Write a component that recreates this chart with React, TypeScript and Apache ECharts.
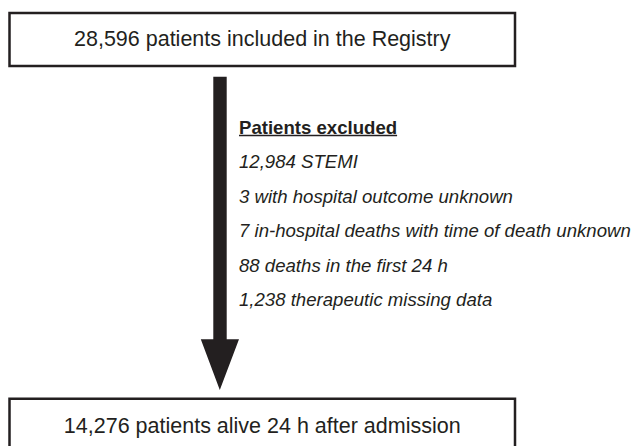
import React, { useEffect, useRef } from "react";
import * as echarts from "echarts";

// ---- data ----
const includedCount = 28596;
const includedLabel = "patients included in the Registry";
const exclusionTitle = "Patients excluded";
const exclusionCounts = [12984, 3, 7, 88, 1238];
const exclusionLabels = [
  "STEMI",
  "with hospital outcome unknown",
  "in-hospital deaths with time of death unknown",
  "deaths in the first 24 h",
  "therapeutic missing data",
];
const finalCount = 14276;
const finalLabel = "patients alive 24 h after admission";

// ---- style / layout ----
const INK = "#231f20";
const FONT = "'Liberation Sans', Arial, Helvetica, sans-serif";
const BOX_X = 9.5;
const BOX_W = 505.5;
const TOP_Y = 13;
const TOP_H = 53;
const BOT_Y = 398.7;
const BOT_H = 80;
const BOX_LW = 2.5;
const BOX_FS = 21.5;
const LIST_X = 239;
const LIST_Y0 = 127;
const LIST_STEP = 34.5;
const LIST_FS = 18.6;
const SHAFT_L = 213.3;
const SHAFT_R = 226.7;
const SHAFT_TOP = 76.7;
const HEAD_TOP = 339.3;
const HEAD_L = 200.8;
const HEAD_R = 239;
const TIP_X = 219.8;
const TIP_Y = 390;

const fmt = (n: number) => n.toLocaleString("en-US");

function measure(text: string, font: string): number {
  const c = document.createElement("canvas").getContext("2d");
  if (!c) return text.length * 9;
  c.font = font;
  return c.measureText(text).width;
}

export default function App() {
  const ref = useRef<HTMLDivElement>(null);
  useEffect(() => {
    if (!ref.current) return;
    document.body.style.margin = "0";
    const chart = echarts.init(ref.current, undefined, { renderer: "svg" });
    const titleFont = `bold ${LIST_FS}px ${FONT}`;
    const titleW = measure(exclusionTitle, `bold ${LIST_FS}px Liberation Sans, Arial, sans-serif`);

    const listItems: any[] = exclusionCounts.map((c, i) => ({
      type: "text",
      x: LIST_X,
      y: LIST_Y0 + LIST_STEP * (i + 1),
      style: {
        text: `${fmt(c)} ${exclusionLabels[i]}`,
        fill: INK,
        font: `italic ${LIST_FS}px ${FONT}`,
        align: "left",
        verticalAlign: "middle",
      },
    }));

    const elements: any[] = [
      {
        type: "rect",
        shape: { x: BOX_X, y: TOP_Y, width: BOX_W, height: TOP_H },
        style: { fill: "#fff", stroke: INK, lineWidth: BOX_LW },
      },
      {
        type: "text",
        x: BOX_X + BOX_W / 2,
        y: 38.7,
        style: {
          text: `${fmt(includedCount)} ${includedLabel}`,
          fill: INK,
          font: `${BOX_FS}px ${FONT}`,
          align: "center",
          verticalAlign: "middle",
        },
      },
      {
        type: "polygon",
        shape: {
          points: [
            [SHAFT_L, SHAFT_TOP],
            [SHAFT_R, SHAFT_TOP],
            [SHAFT_R, HEAD_TOP],
            [HEAD_R, HEAD_TOP],
            [TIP_X, TIP_Y],
            [HEAD_L, HEAD_TOP],
            [SHAFT_L, HEAD_TOP],
          ],
        },
        style: { fill: INK },
      },
      {
        type: "text",
        x: LIST_X,
        y: LIST_Y0,
        style: {
          text: exclusionTitle,
          fill: INK,
          font: titleFont,
          align: "left",
          verticalAlign: "middle",
        },
      },
      {
        type: "line",
        shape: { x1: LIST_X, y1: 135.5, x2: LIST_X + titleW, y2: 135.5 },
        style: { stroke: INK, lineWidth: 1.5 },
      },
      ...listItems,
      {
        type: "rect",
        shape: { x: BOX_X, y: BOT_Y, width: BOX_W, height: BOT_H },
        style: { fill: "#fff", stroke: INK, lineWidth: BOX_LW },
      },
      {
        type: "text",
        x: BOX_X + BOX_W / 2,
        y: 425.8,
        style: {
          text: `${fmt(finalCount)} ${finalLabel}`,
          fill: INK,
          font: `${BOX_FS}px ${FONT}`,
          align: "center",
          verticalAlign: "middle",
        },
      },
    ];

    chart.setOption({
      animation: false,
      backgroundColor: "#ffffff",
      graphic: { elements },
    });
    return () => chart.dispose();
  }, []);
  return (
    <div
      ref={ref}
      style={{ position: "absolute", left: 0, top: 0, width: 635, height: 446 }}
    />
  );
}
